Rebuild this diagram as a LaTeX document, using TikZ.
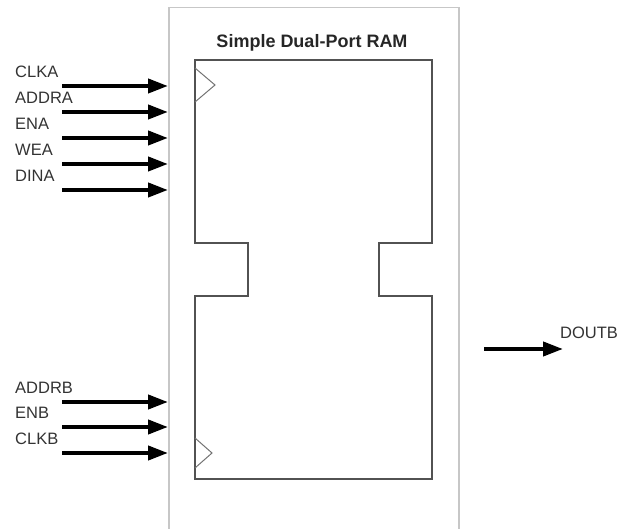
\documentclass[tikz,border=0pt]{standalone}
\usepackage{fontspec}
\setmainfont{Liberation Sans}
\usetikzlibrary{arrows.meta}

\begin{document}
\begin{tikzpicture}[
  x=1pt, y=-1pt,
  font=\fontsize{16.5}{19}\selectfont,
  >={Triangle[length=20pt, width=14pt]},
  outerbox/.style={
    draw=black!22,
    line width=1.5pt,
    inner sep=0pt,
    anchor=north west
  },
  ram/.style={draw=black!68, line width=1.6pt},
  clk/.style={draw=black!55, line width=1pt},
  sig/.style={->, line width=4pt},
  pin/.style={anchor=west, text=black!80, inner sep=0pt}
]
\useasboundingbox (0,0) rectangle (619,529);

% outer box, runs off the bottom
\node[outerbox, minimum width=290pt, minimum height=560pt] (chip) at (168,7) {};

% title
\node[font=\bfseries\fontsize{18}{21}\selectfont, text=black!85] (title) at (312,43)
  {Simple Dual-Port RAM};

% RAM body with the two notches
\draw[ram] (195,60) -| (432,243) -| (379,296) -| (432,479)
  -| (195,296) -| (248,243) -| (195,60) -- cycle;

% clock marks
\draw[clk] (195,68) -- (215,85) -- (195,102);
\draw[clk] (195,438) -- (212,453) -- (195,468);

% input ports
\foreach \pin/\y in {CLKA/86, ADDRA/112, ENA/138, WEA/164, DINA/190,
                     ADDRB/402, ENB/427, CLKB/453}{
  \coordinate (src-\pin) at (62,\y);
  \node[pin] (lbl-\pin) at (15,\y-14) {\pin};
  \draw[sig] (src-\pin) -- (src-\pin -| chip.west);
}

% output port
\coordinate (src-DOUTB) at (484,349);
\coordinate (dst-DOUTB) at (563,349);
\draw[sig] (src-DOUTB) -- (dst-DOUTB);
\node[pin] (lbl-DOUTB) at (560,333) {DOUTB};

\end{tikzpicture}
\end{document}
